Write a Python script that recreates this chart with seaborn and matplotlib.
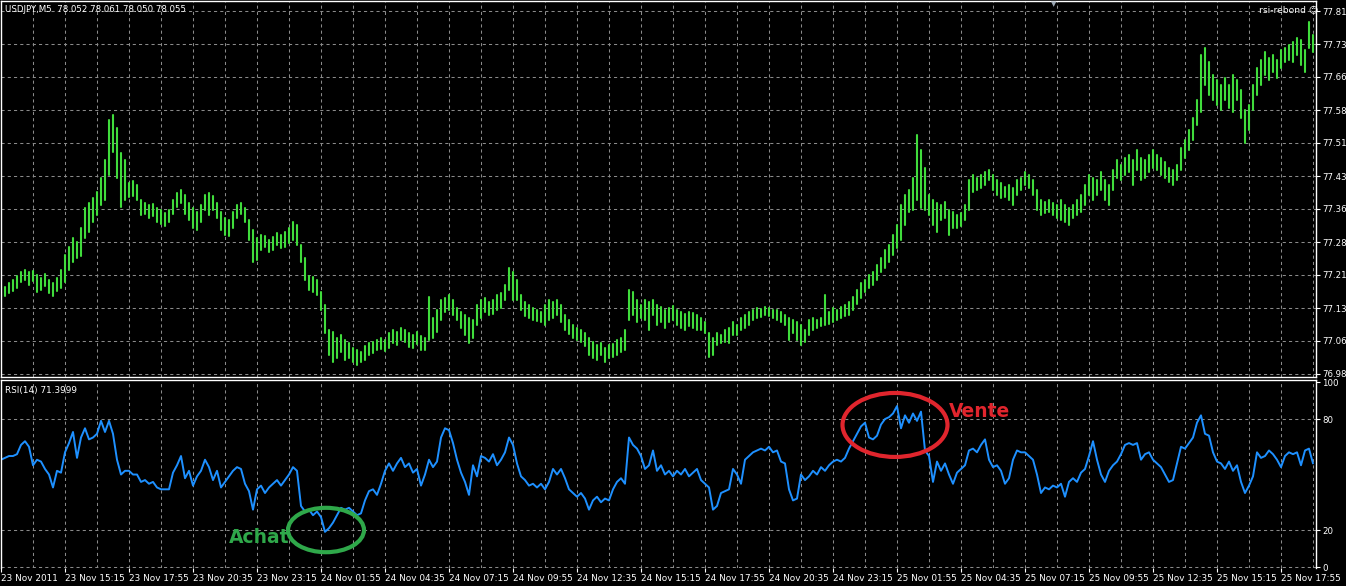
import numpy as np
import pandas as pd
import matplotlib
matplotlib.use("Agg")
import matplotlib.pyplot as plt
import seaborn as sns
from matplotlib.patches import Ellipse

# ---------------- data ----------------
bar_high = [
    77.186, 77.182, 77.191, 77.198, 77.207, 77.216, 77.221, 77.216, 77.218, 77.209,
    77.202, 77.212, 77.198, 77.191, 77.202, 77.221, 77.255, 77.273, 77.294, 77.285,
    77.317, 77.363, 77.374, 77.386, 77.399, 77.431, 77.473, 77.564, 77.576, 77.546,
    77.489, 77.473, 77.420, 77.425, 77.415, 77.381, 77.374, 77.370, 77.372, 77.363,
    77.358, 77.351, 77.358, 77.381, 77.397, 77.404, 77.392, 77.374, 77.363, 77.354,
    77.370, 77.392, 77.397, 77.390, 77.374, 77.354, 77.340, 77.335, 77.354, 77.370,
    77.374, 77.363, 77.335, 77.312, 77.294, 77.301, 77.299, 77.289, 77.296, 77.305,
    77.301, 77.308, 77.317, 77.331, 77.324, 77.278, 77.248, 77.207, 77.205, 77.198,
    77.170, 77.141, 77.083, 77.079, 77.065, 77.072, 77.060, 77.054, 77.042, 77.038,
    77.033, 77.047, 77.054, 77.056, 77.060, 77.065, 77.060, 77.076, 77.083, 77.079,
    77.088, 77.083, 77.076, 77.072, 77.079, 77.070, 77.065, 77.159, 77.111, 77.129,
    77.152, 77.157, 77.163, 77.152, 77.134, 77.125, 77.118, 77.111, 77.106, 77.141,
    77.152, 77.157, 77.147, 77.152, 77.163, 77.168, 77.186, 77.225, 77.216, 77.198,
    77.163, 77.147, 77.141, 77.134, 77.129, 77.125, 77.141, 77.152, 77.147, 77.152,
    77.141, 77.118, 77.106, 77.095, 77.088, 77.083, 77.076, 77.065, 77.056, 77.049,
    77.054, 77.042, 77.049, 77.051, 77.060, 77.065, 77.083, 77.175, 77.170, 77.152,
    77.141, 77.152, 77.147, 77.152, 77.141, 77.136, 77.129, 77.134, 77.138, 77.129,
    77.125, 77.120, 77.125, 77.122, 77.118, 77.111, 77.102, 77.076, 77.065, 77.076,
    77.072, 77.083, 77.088, 77.102, 77.095, 77.111, 77.118, 77.125, 77.129, 77.134,
    77.131, 77.136, 77.134, 77.129, 77.129, 77.125, 77.118, 77.111, 77.106, 77.102,
    77.095, 77.083, 77.106, 77.111, 77.106, 77.111, 77.163, 77.125, 77.134, 77.129,
    77.136, 77.141, 77.147, 77.159, 77.175, 77.191, 77.198, 77.209, 77.216, 77.232,
    77.248, 77.266, 77.278, 77.301, 77.324, 77.370, 77.392, 77.404, 77.431, 77.530,
    77.496, 77.454, 77.392, 77.381, 77.374, 77.370, 77.376, 77.358, 77.354, 77.347,
    77.351, 77.370, 77.427, 77.438, 77.431, 77.438, 77.445, 77.450, 77.438, 77.427,
    77.420, 77.411, 77.415, 77.408, 77.427, 77.431, 77.445, 77.438, 77.427, 77.404,
    77.381, 77.376, 77.381, 77.374, 77.370, 77.381, 77.370, 77.363, 77.370, 77.381,
    77.392, 77.415, 77.438, 77.431, 77.427, 77.445, 77.427, 77.415, 77.450, 77.473,
    77.461, 77.477, 77.484, 77.473, 77.496, 77.477, 77.473, 77.484, 77.496, 77.484,
    77.477, 77.468, 77.454, 77.450, 77.461, 77.500, 77.518, 77.541, 77.569, 77.610,
    77.713, 77.729, 77.697, 77.667, 77.656, 77.644, 77.660, 77.644, 77.667, 77.656,
    77.633, 77.587, 77.599, 77.644, 77.683, 77.702, 77.720, 77.706, 77.713, 77.702,
    77.724, 77.729, 77.736, 77.743, 77.752, 77.747, 77.724, 77.789, 77.759,
]

bar_low = [
    77.159, 77.161, 77.168, 77.173, 77.179, 77.193, 77.198, 77.186, 77.196, 77.170,
    77.175, 77.184, 77.168, 77.161, 77.173, 77.179, 77.193, 77.221, 77.239, 77.248,
    77.253, 77.294, 77.308, 77.331, 77.347, 77.370, 77.381, 77.438, 77.491, 77.431,
    77.365, 77.381, 77.388, 77.390, 77.381, 77.347, 77.349, 77.340, 77.344, 77.331,
    77.326, 77.321, 77.331, 77.349, 77.365, 77.374, 77.349, 77.335, 77.317, 77.312,
    77.331, 77.358, 77.347, 77.358, 77.340, 77.312, 77.301, 77.299, 77.317, 77.340,
    77.349, 77.331, 77.289, 77.239, 77.244, 77.266, 77.273, 77.262, 77.266, 77.278,
    77.271, 77.273, 77.283, 77.289, 77.278, 77.239, 77.198, 77.175, 77.170, 77.163,
    77.129, 77.076, 77.026, 77.010, 77.019, 77.033, 77.015, 77.019, 77.010, 77.003,
    77.010, 77.015, 77.026, 77.031, 77.038, 77.040, 77.035, 77.042, 77.054, 77.049,
    77.060, 77.056, 77.044, 77.042, 77.051, 77.038, 77.038, 77.060, 77.065, 77.079,
    77.106, 77.125, 77.129, 77.118, 77.106, 77.088, 77.072, 77.054, 77.065, 77.095,
    77.111, 77.125, 77.118, 77.120, 77.129, 77.134, 77.152, 77.175, 77.152, 77.152,
    77.129, 77.115, 77.111, 77.106, 77.104, 77.102, 77.095, 77.106, 77.111, 77.118,
    77.102, 77.083, 77.074, 77.065, 77.060, 77.056, 77.047, 77.026, 77.019, 77.015,
    77.026, 77.010, 77.019, 77.021, 77.026, 77.033, 77.038, 77.106, 77.118, 77.102,
    77.111, 77.106, 77.083, 77.118, 77.095, 77.102, 77.088, 77.102, 77.106, 77.095,
    77.088, 77.083, 77.092, 77.088, 77.083, 77.083, 77.076, 77.021, 77.026, 77.049,
    77.054, 77.056, 77.054, 77.072, 77.072, 77.083, 77.088, 77.095, 77.106, 77.111,
    77.113, 77.118, 77.115, 77.111, 77.106, 77.102, 77.095, 77.060, 77.076, 77.060,
    77.049, 77.056, 77.072, 77.083, 77.088, 77.092, 77.095, 77.097, 77.102, 77.106,
    77.111, 77.115, 77.118, 77.129, 77.143, 77.157, 77.170, 77.179, 77.186, 77.198,
    77.216, 77.225, 77.239, 77.255, 77.271, 77.289, 77.324, 77.354, 77.358, 77.381,
    77.363, 77.358, 77.347, 77.324, 77.308, 77.335, 77.340, 77.301, 77.317, 77.317,
    77.321, 77.335, 77.358, 77.399, 77.404, 77.408, 77.415, 77.427, 77.404, 77.392,
    77.386, 77.388, 77.381, 77.370, 77.392, 77.404, 77.415, 77.408, 77.392, 77.358,
    77.347, 77.351, 77.354, 77.347, 77.340, 77.335, 77.331, 77.324, 77.340, 77.347,
    77.354, 77.370, 77.392, 77.381, 77.392, 77.404, 77.381, 77.370, 77.404, 77.431,
    77.427, 77.438, 77.445, 77.415, 77.450, 77.427, 77.431, 77.445, 77.454, 77.450,
    77.438, 77.431, 77.422, 77.415, 77.427, 77.450, 77.477, 77.496, 77.518, 77.553,
    77.583, 77.644, 77.621, 77.610, 77.599, 77.587, 77.610, 77.592, 77.583, 77.610,
    77.569, 77.512, 77.541, 77.587, 77.621, 77.644, 77.667, 77.656, 77.674, 77.660,
    77.683, 77.697, 77.702, 77.697, 77.713, 77.690, 77.674, 77.729, 77.720,
]

rsi_values = [
    58, 59, 60, 60, 61, 66, 68, 65, 55, 58,
    57, 53, 50, 43, 52, 51, 62, 67, 73, 59,
    70, 75, 69, 70, 72, 79, 73, 79, 72, 58,
    50, 52, 52, 50, 50, 46, 47, 45, 46, 43,
    42, 42, 42, 51, 55, 60, 48, 52, 44, 49,
    52, 58, 54, 47, 52, 43, 46, 49, 52, 54,
    53, 45, 41, 31, 42, 44, 40, 43, 45, 47,
    44, 47, 50, 54, 52, 33, 30, 31, 28, 30,
    27, 19, 21, 24, 28, 32, 31, 32, 30, 28,
    29, 36, 41, 42, 39, 45, 52, 56, 52, 56,
    59, 54, 56, 51, 53, 44, 50, 58, 54, 57,
    70, 75, 74, 67, 58, 51, 46, 39, 55, 49,
    60, 59, 57, 61, 55, 58, 62, 70, 66, 56,
    49, 47, 44, 45, 43, 45, 42, 46, 53, 50,
    53, 48, 42, 40, 38, 40, 37, 31, 36, 38,
    35, 37, 36, 42, 46, 48, 45, 70, 66, 64,
    60, 53, 55, 63, 52, 55, 50, 52, 49, 52,
    50, 53, 49, 51, 53, 47, 45, 43, 31, 33,
    40, 41, 42, 53, 50, 45, 58, 60, 62, 63,
    64, 63, 65, 62, 63, 57, 56, 42, 36, 37,
    50, 47, 49, 52, 50, 54, 52, 55, 57, 58,
    57, 59, 64, 68, 72, 76, 78, 70, 69, 71,
    77, 80, 81, 83, 87, 75, 82, 78, 83, 79,
    84, 63, 60, 46, 57, 52, 56, 50, 45, 51,
    53, 55, 63, 64, 62, 66, 69, 58, 54, 55,
    52, 45, 48, 58, 63, 62, 62, 60, 58, 50,
    40, 43, 42, 44, 43, 45, 38, 46, 48, 46,
    51, 53, 60, 68, 58, 50, 46, 52, 55, 57,
    61, 66, 67, 66, 67, 58, 61, 62, 58, 56,
    54, 50, 46, 47, 56, 65, 64, 67, 70, 78,
    82, 72, 71, 62, 57, 56, 53, 57, 52, 55,
    46, 40, 44, 49, 62, 59, 60, 63, 61, 58,
    54, 60, 62, 61, 62, 55, 63, 64, 56,
]

price_ticks = [76.983, 77.059, 77.134, 77.210, 77.285, 77.361,
               77.436, 77.512, 77.587, 77.663, 77.738, 77.814]
price_tick_labels = ["76.98", "77.06", "77.13", "77.21", "77.28", "77.36",
                     "77.43", "77.51", "77.58", "77.66", "77.73", "77.81"]
rsi_ticks = [0, 20, 80, 100]
rsi_levels = [20, 80]
time_labels = ["23 Nov 2011", "23 Nov 15:15", "23 Nov 17:55", "23 Nov 20:35",
               "23 Nov 23:15", "24 Nov 01:55", "24 Nov 04:35", "24 Nov 07:15",
               "24 Nov 09:55", "24 Nov 12:35", "24 Nov 15:15", "24 Nov 17:55",
               "24 Nov 20:35", "24 Nov 23:15", "25 Nov 01:55", "25 Nov 04:35",
               "25 Nov 07:15", "25 Nov 09:55", "25 Nov 12:35", "25 Nov 15:15",
               "25 Nov 17:55"]
header_text = "USDJPY,M5  78.052 78.061 78.050 78.055"
rsi_title = "RSI(14) 71.3999"
indicator_name = "rsi-rebond \u263A"

# ---------------- style ----------------
sns.set_style("dark", rc={"axes.facecolor": "black", "figure.facecolor": "black",
                          "axes.edgecolor": "white", "text.color": "white",
                          "xtick.color": "white", "ytick.color": "white"})
plt.rcParams["font.family"] = ["DejaVu Sans"]

BAR_COLOR = "#40dc3c"
RSI_COLOR = "#1e90ff"
GRID_COLOR = "#8a8a8a"
ACHAT_COLOR = "#2fa84a"
VENTE_COLOR = "#e0252d"

W, H = 1346, 586
fig = plt.figure(figsize=(W / 100, H / 100), dpi=100)
ax_p = fig.add_axes([1 / W, (H - 377) / H, 1315 / W, 376 / H])
ax_r = fig.add_axes([1 / W, (H - 568) / H, 1315 / W, 188 / H])

n = len(bar_high)
idx = np.arange(n)
xmax = 328.75

# price bars (high-low segments) via seaborn with units
df_bars = pd.DataFrame({
    "bar": np.repeat(idx, 2),
    "price": np.column_stack([bar_high, bar_low]).ravel(),
})
sns.lineplot(data=df_bars, x="bar", y="price", units="bar", estimator=None,
             sort=False, color=BAR_COLOR, linewidth=1.5, ax=ax_p, legend=False)

# RSI line
df_rsi = pd.DataFrame({"bar": idx, "rsi": rsi_values})
sns.lineplot(data=df_rsi, x="bar", y="rsi", color=RSI_COLOR, linewidth=1.4,
             ax=ax_r, legend=False)

grid_kw = dict(color=GRID_COLOR, linewidth=0.75, linestyle=(0, (3, 3)), zorder=0)
vgrid = np.arange(8, 329, 8)

# price axes
ax_p.set_xlim(0, xmax)
ax_p.set_ylim(76.976, 77.837)
for v in vgrid:
    ax_p.axvline(v, **grid_kw)
for t in price_ticks:
    ax_p.axhline(t, **grid_kw)
ax_p.yaxis.tick_right()
ax_p.set_yticks(price_ticks)
ax_p.set_yticklabels(price_tick_labels)
ax_p.tick_params(axis="y", colors="white", labelsize=6.2, length=3, width=0.8,
                 pad=1.5, right=True, left=False, direction="out")
ax_p.set_xticks([])
ax_p.set_xlabel("")
ax_p.set_ylabel("")
for s in ax_p.spines.values():
    s.set_color("white")
    s.set_linewidth(1.0)

# RSI axes
ax_r.set_xlim(0, xmax)
ax_r.set_ylim(-0.54, 101.1)
for v in vgrid:
    ax_r.axvline(v, **grid_kw)
for lv in rsi_levels + [0]:
    ax_r.axhline(lv, **grid_kw)
ax_r.yaxis.tick_right()
ax_r.set_yticks(rsi_ticks)
ax_r.set_yticklabels([str(t) for t in rsi_ticks])
ax_r.tick_params(axis="y", colors="white", labelsize=6.2, length=3, width=0.8,
                 pad=1.5, right=True, left=False, direction="out")
xt = np.arange(0, 16 * len(time_labels), 16)
ax_r.set_xticks(xt)
ax_r.set_xticklabels(time_labels)
for lab in ax_r.get_xticklabels():
    lab.set_horizontalalignment("left")
ax_r.tick_params(axis="x", colors="white", labelsize=6.4, length=3, width=0.8,
                 pad=1.5, bottom=True, direction="out")
ax_r.set_xlabel("")
ax_r.set_ylabel("")
for name, s in ax_r.spines.items():
    s.set_color("white")
    s.set_linewidth(1.0)
ax_r.spines["bottom"].set_visible(False)

# annotations
ax_r.add_patch(Ellipse((81.25, 20), 19, 24, fill=False, edgecolor=ACHAT_COLOR,
                       linewidth=3, zorder=5))
ax_r.text(64.5, 16.2, "Achat", color=ACHAT_COLOR, fontsize=13.5,
          fontweight="bold", ha="center", va="center", zorder=6)
ax_r.add_patch(Ellipse((223.5, 76.8), 26.25, 34.6, fill=False,
                       edgecolor=VENTE_COLOR, linewidth=3, zorder=5))
ax_r.text(244.75, 84.3, "Vente", color=VENTE_COLOR, fontsize=13.5,
          fontweight="bold", ha="center", va="center", zorder=6)

# header texts
fig.text(5 / W, 1 - 10 / H, header_text, color="white", fontsize=6.2,
         ha="left", va="center")
fig.text(1318 / W, 1 - 10 / H, indicator_name, color="white", fontsize=6.6,
         ha="right", va="center")
fig.text(5 / W, 1 - 390 / H, rsi_title, color="white", fontsize=6.4,
         ha="left", va="center")
fig.text(1054 / W, 1 - 4 / H, "\u25BC", color="#9aa6b2", fontsize=5,
         ha="center", va="center")

fig.savefig("out.png", dpi=100, facecolor="black")
